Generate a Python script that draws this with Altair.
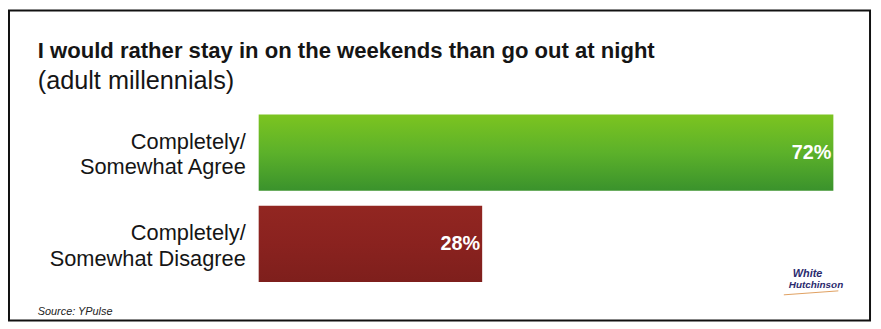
import altair as alt
import pandas as pd

categories = ["Completely/\nSomewhat Agree", "Completely/\nSomewhat Disagree"]
values = [72, 28]
value_labels = ["72%", "28%"]
title_text = ["I would rather stay in on the weekends than go out at night"]
subtitle_text = ["(adult millennials)"]
source_note = ["Source: YPulse"]
logo_lines = ["White", "Hutchinson"]

df = pd.DataFrame({"cat": categories, "val": values, "lab": value_labels})

FONT = "Liberation Sans"
INK = "#151515"

y_enc = alt.Y("cat:N", sort=categories, axis=None,
              scale=alt.Scale(paddingInner=0.163, paddingOuter=0.087))
x_enc = alt.X("val:Q", axis=None, scale=alt.Scale(domain=[0, 72], nice=False, zero=True))

green = alt.Gradient(gradient="linear", x1=0, y1=0, x2=0, y2=1,
                     stops=[alt.GradientStop(color="#7cc420", offset=0),
                            alt.GradientStop(color="#5cb12a", offset=0.5),
                            alt.GradientStop(color="#3a922c", offset=1)])
red = alt.Gradient(gradient="linear", x1=0, y1=0, x2=0, y2=1,
                   stops=[alt.GradientStop(color="#922621", offset=0),
                          alt.GradientStop(color="#8a221f", offset=0.5),
                          alt.GradientStop(color="#7e1f1c", offset=1)])

base = alt.Chart(df)

bar_agree = base.transform_filter(alt.datum.cat == categories[0]).mark_bar(
    color=green).encode(x=x_enc, y=y_enc)
bar_dis = base.transform_filter(alt.datum.cat == categories[1]).mark_bar(
    color=red).encode(x=x_enc, y=y_enc)

val_text = base.mark_text(align="right", baseline="middle", dx=-2, dy=0, font=FONT,
                          fontSize=20, fontWeight="bold", color="white").encode(
    x=x_enc, y=y_enc, text="lab:N")

cat_text = base.mark_text(align="right", baseline="middle", lineBreak="\n",
                          lineHeight=26, dy=-11, font=FONT, fontSize=22, color=INK).encode(
    y=y_enc, x=alt.value(-13), text="cat:N")

title = alt.Chart(pd.DataFrame({"t": title_text})).mark_text(
    align="left", baseline="alphabetic", font=FONT, fontSize=22.3, fontWeight="bold",
    color=INK).encode(x=alt.value(-223), y=alt.value(-49), text="t:N")
subtitle = alt.Chart(pd.DataFrame({"t": subtitle_text})).mark_text(
    align="left", baseline="alphabetic", font=FONT, fontSize=25.5,
    color=INK).encode(x=alt.value(-223), y=alt.value(-18), text="t:N")

src = alt.Chart(pd.DataFrame({"t": source_note})).mark_text(
    align="left", baseline="alphabetic", font=FONT, fontSize=11, fontStyle="italic",
    color="#222222").encode(x=alt.value(-223), y=alt.value(210), text="t:N")

logo1 = alt.Chart(pd.DataFrame({"t": [logo_lines[0]]})).mark_text(
    align="left", baseline="alphabetic", font=FONT, fontSize=11, fontStyle="italic",
    fontWeight="bold", color="#2b2a6e").encode(x=alt.value(539), y=alt.value(172), text="t:N")
logo2 = alt.Chart(pd.DataFrame({"t": [logo_lines[1]]})).mark_text(
    align="left", baseline="alphabetic", font=FONT, fontSize=10, fontStyle="italic",
    fontWeight="bold", color="#2b2a6e").encode(
    x=alt.value(535), y=alt.value(183), text="t:N")
logo_line = alt.Chart(pd.DataFrame({"a": [0]})).mark_rule(
    color="#e0a060", strokeWidth=1).encode(
    x=alt.value(530), x2=alt.value(585), y=alt.value(190), y2=alt.value(186))

frame = alt.Chart(pd.DataFrame({"a": [0]})).mark_rect(
    fill=None, stroke="#111111", strokeWidth=2).encode(
    x=alt.value(-252), x2=alt.value(617), y=alt.value(-97), y2=alt.value(216))

chart = alt.layer(frame, bar_agree, bar_dis, val_text, cat_text, title, subtitle,
                  src, logo_line, logo1, logo2).properties(
    width=580, height=185,
    autosize=alt.AutoSizeParams(type="none"),
    padding={"left": 253, "top": 98, "right": 40, "bottom": 38},
).configure(background="white").configure_view(stroke=None)

chart.save("out.html", embed_options={"renderer": "svg", "actions": False})
